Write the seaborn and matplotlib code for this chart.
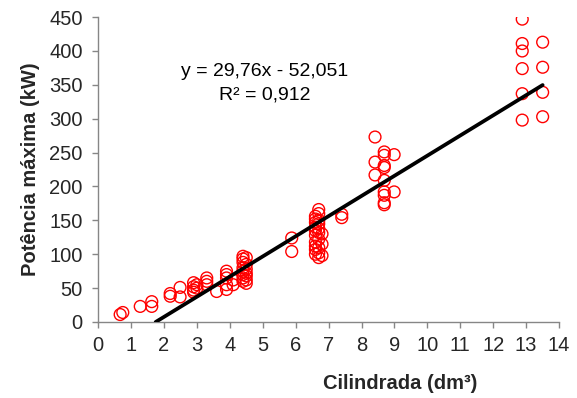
import matplotlib
matplotlib.use("Agg")
import matplotlib.pyplot as plt
import seaborn as sns
import numpy as np
import pandas as pd

# Data
cilindrada = [0.67, 0.75, 1.28, 1.63, 1.63, 2.19, 2.19, 2.49, 2.49,
              2.9, 2.9, 2.9, 2.9, 3.0, 3.0, 3.3, 3.3, 3.3, 3.6,
              3.9, 3.9, 3.9, 3.9, 3.9, 4.1, 4.1,
              4.4, 4.4, 4.4, 4.4, 4.4, 4.4, 4.4, 4.4,
              4.5, 4.5, 4.5, 4.5, 4.5, 4.5, 4.5,
              5.88, 5.88,
              6.6, 6.6, 6.6, 6.6, 6.6, 6.6, 6.6, 6.6, 6.6, 6.6,
              6.7, 6.7, 6.7, 6.7, 6.7, 6.7, 6.7, 6.7, 6.7, 6.7,
              6.8, 6.8, 6.8, 7.4, 7.4,
              8.41, 8.41, 8.41,
              8.69, 8.69, 8.69, 8.69, 8.69, 8.69, 8.69, 8.69, 8.69,
              8.99, 8.99,
              12.88, 12.88, 12.88, 12.88, 12.88, 12.88,
              13.5, 13.5, 13.5, 13.5]
potencia = [11, 14, 23, 23, 30, 38, 42, 37, 51,
            44, 47, 52, 58, 50, 55, 55, 60, 65, 45,
            48, 55, 65, 70, 75, 55, 62,
            60, 65, 70, 75, 80, 88, 93, 97,
            57, 62, 68, 72, 78, 85, 95,
            104, 124,
            100, 107, 112, 118, 128, 135, 140, 147, 152, 156,
            95, 102, 110, 122, 132, 138, 145, 150, 160, 166,
            98, 115, 130, 154, 159,
            217, 236, 273,
            173, 176, 187, 192, 209, 228, 231, 246, 251,
            192, 247,
            298, 337, 374, 400, 411, 447,
            303, 339, 376, 413]

slope = 29.76
intercept = -52.051
eq_text = "y = 29,76x - 52,051"
r2_text = "R² = 0,912"
x_ticks = list(range(0, 15))
y_ticks = list(range(0, 451, 50))

sns.set_theme(style="white")
plt.rcParams['font.family'] = ['Liberation Sans', 'DejaVu Sans']

fig = plt.figure(figsize=(5.77, 3.98), dpi=100)
ax = fig.add_axes([0.170, 0.191, 0.799, 0.766])

df = pd.DataFrame({"x": cilindrada, "y": potencia})
sns.scatterplot(data=df, x="x", y="y", ax=ax, s=72, marker="o",
                facecolors="none", edgecolor="#ff0000", linewidth=1.0, zorder=2)

x0 = -intercept / slope
x1 = max(cilindrada)
tx = np.array([x0, x1])
trend = pd.DataFrame({"x": tx, "y": slope * tx + intercept})
sns.lineplot(data=trend, x="x", y="y", ax=ax, color="black", linewidth=2.7, zorder=3)

ax.set_xlim(0, 14)
ax.set_ylim(0, 450)
ax.set_xticks(x_ticks)
ax.set_yticks(y_ticks)
ax.tick_params(axis="both", which="major", labelsize=14.5, length=4, width=1,
               color="#868686", direction="out", bottom=True, left=True)
ax.tick_params(axis="x", pad=6)
ax.tick_params(axis="y", pad=7)
for s in ["top", "right"]:
    ax.spines[s].set_visible(False)
for s in ["left", "bottom"]:
    ax.spines[s].set_color("#868686")
    ax.spines[s].set_linewidth(1)

ax.set_xlabel("Cilindrada (dm³)", fontsize=14.5, fontweight="bold", labelpad=14, x=0.655)
ax.set_ylabel("Potência máxima (kW)", fontsize=14.5, fontweight="bold", labelpad=7)

ax.text(5.07, 369, eq_text, ha="center", va="center", fontsize=14, color="black")
ax.text(5.07, 335, r2_text, ha="center", va="center", fontsize=14, color="black")

fig.savefig("out.png", dpi=100)
